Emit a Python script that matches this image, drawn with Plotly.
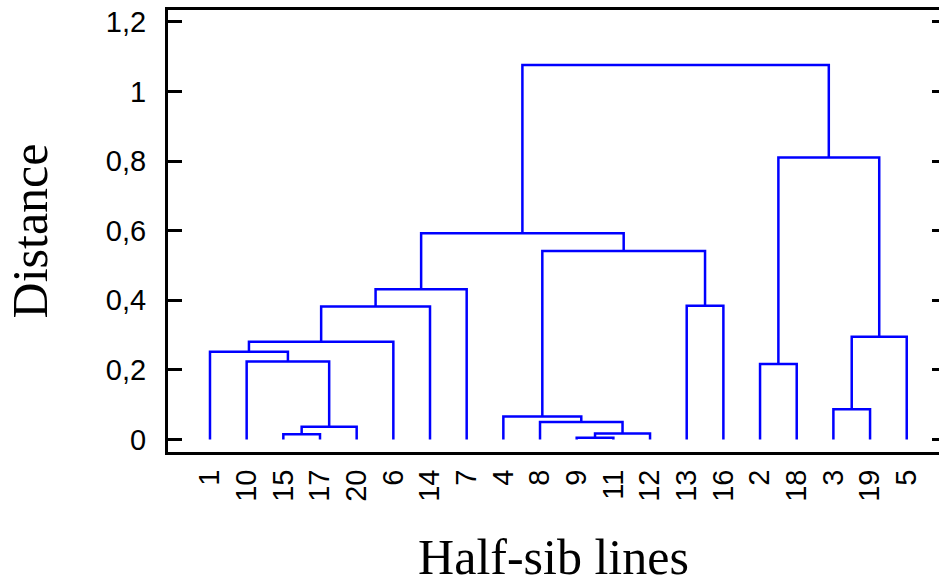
import plotly.graph_objects as go

# Leaf order along the x axis (half-sib line labels)
leaf_labels = ["1", "10", "15", "17", "20", "6", "14", "7", "4", "8",
               "9", "11", "12", "13", "16", "2", "18", "3", "19", "5"]

# Agglomeration steps: children (leaf label or "C<k>" = k-th merge) and height
merge_left = ["15", "C0", "10", "1", "C3", "C4", "C5",
              "9", "C7", "8", "4", "13", "C10", "C6",
              "2", "3", "C15", "C14", "C13"]
merge_right = ["17", "20", "C1", "C2", "6", "14", "7",
               "11", "12", "C8", "C9", "16", "C11", "C12",
               "18", "19", "5", "C16", "C17"]
merge_height = [0.015, 0.037, 0.224, 0.252, 0.281, 0.382, 0.432,
                0.005, 0.017, 0.050, 0.066, 0.384, 0.542, 0.593,
                0.217, 0.087, 0.295, 0.810, 1.076]

y_ticks = [0, 0.2, 0.4, 0.6, 0.8, 1.0, 1.2]
y_tick_text = ["0", "0,2", "0,4", "0,6", "0,8", "1", "1,2"]

leaf_pos = {lab: i + 1 for i, lab in enumerate(leaf_labels)}
node_x, node_h = {}, {}
for lab in leaf_labels:
    node_x[lab] = leaf_pos[lab]
    node_h[lab] = 0.0

xs, ys = [], []
for k, (a, b, h) in enumerate(zip(merge_left, merge_right, merge_height)):
    xa, ha = node_x[a], node_h[a]
    xb, hb = node_x[b], node_h[b]
    xs += [xa, xa, xb, xb, None]
    ys += [ha, h, h, hb, None]
    node_x["C%d" % k] = (xa + xb) / 2
    node_h["C%d" % k] = h

fig = go.Figure()
fig.add_trace(go.Scatter(x=xs, y=ys, mode="lines",
                         line=dict(color="#0000FF", width=2.5),
                         hoverinfo="skip", showlegend=False))
# invisible trace for the mirrored right axis
fig.add_trace(go.Scatter(x=[None], y=[None], yaxis="y2", showlegend=False))

tick_font = dict(family="Liberation Sans, Arial, sans-serif", size=29, color="black")
title_font = dict(family="Liberation Serif, Times New Roman, serif", size=50, color="black")

yr = [-0.0359, 1.2342]
fig.update_layout(
    width=939, height=585,
    margin=dict(l=168, r=0, t=10, b=133, autoexpand=False),
    paper_bgcolor="white", plot_bgcolor="white",
    xaxis=dict(
        range=[-0.145, 20.88], automargin=False,
        tickmode="array", tickvals=list(range(1, len(leaf_labels) + 1)),
        ticktext=leaf_labels, tickangle=-90, tickfont=tick_font,
        ticks="", showgrid=False, zeroline=False,
        showline=True, linecolor="black", linewidth=3, mirror=True,
        ticklabelstandoff=3,
        title=dict(text="Half-sib lines", font=title_font, standoff=45),
    ),
    yaxis=dict(
        range=yr, automargin=False,
        tickmode="array", tickvals=y_ticks, ticktext=y_tick_text,
        tickfont=tick_font, ticks="inside", ticklen=14, tickwidth=3,
        tickcolor="black", showgrid=False, zeroline=False,
        showline=True, linecolor="black", linewidth=3,
        ticklabelstandoff=13,
        title=dict(text="Distance", font=title_font, standoff=43),
    ),
    yaxis2=dict(
        range=yr, overlaying="y", side="right", tickmode="array",
        automargin=False,
        tickvals=y_ticks, showticklabels=False, ticks="inside", ticklen=7,
        tickwidth=3, tickcolor="black", showgrid=False, zeroline=False,
        showline=False,
    ),
)

fig.write_html("out.html", config={"displayModeBar": False},
               post_script="document.body.style.margin='0';document.body.style.overflow='hidden';")
